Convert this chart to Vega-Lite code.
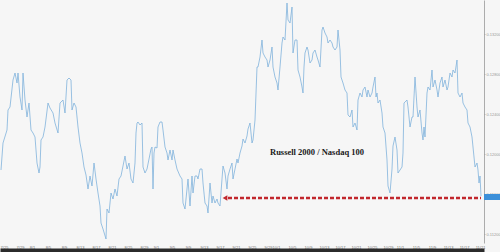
{
"$schema": "https://vega.github.io/schema/vega-lite/v6.json",
"width": 484, "height": 243,
"autosize": {"type": "none"},
"padding": {"left": 0, "top": 0, "right": 16, "bottom": 9},
"background": "#f6f6f6",
"config": {"view": {"stroke": null, "fill": "#f6f6f6"}},
"resolve": {"axis": {"x": "independent"}},
"datasets": {
"series": [
{"t":"2021-205 06","v":0.1184},{"t":"2021-205 18","v":0.1211},{"t":"2021-206 18","v":0.1224},{"t":"2021-207 00","v":0.1244},{"t":"2021-207 12","v":0.1247},
{"t":"2021-208 06","v":0.1274},{"t":"2021-208 18","v":0.1281},{"t":"2021-209 06","v":0.1271},{"t":"2021-209 12","v":0.1281},{"t":"2021-210 00","v":0.1257},
{"t":"2021-210 12","v":0.1244},{"t":"2021-210 18","v":0.1281},{"t":"2021-211 06","v":0.1254},{"t":"2021-211 18","v":0.1237},{"t":"2021-212 06","v":0.1251},
{"t":"2021-212 18","v":0.1224},{"t":"2021-213 06","v":0.1221},{"t":"2021-213 18","v":0.1217},{"t":"2021-214 06","v":0.1191},{"t":"2021-214 18","v":0.1181},
{"t":"2021-215 00","v":0.1187},{"t":"2021-215 06","v":0.1214},{"t":"2021-215 18","v":0.1217},{"t":"2021-216 06","v":0.1227},{"t":"2021-217 00","v":0.1251},
{"t":"2021-217 12","v":0.1246},{"t":"2021-218 06","v":0.1241},{"t":"2021-218 18","v":0.1231},{"t":"2021-219 12","v":0.1221},{"t":"2021-220 00","v":0.1251},
{"t":"2021-220 18","v":0.1254},{"t":"2021-221 06","v":0.1241},{"t":"2021-221 18","v":0.1274},{"t":"2021-222 06","v":0.1276},{"t":"2021-222 18","v":0.1274},
{"t":"2021-223 00","v":0.1244},{"t":"2021-223 12","v":0.1251},{"t":"2021-224 00","v":0.1247},{"t":"2021-224 12","v":0.1227},{"t":"2021-225 00","v":0.1211},
{"t":"2021-225 12","v":0.1201},{"t":"2021-226 00","v":0.1187},{"t":"2021-226 12","v":0.1179},{"t":"2021-227 00","v":0.1165},{"t":"2021-227 12","v":0.1178},
{"t":"2021-228 00","v":0.1168},{"t":"2021-228 12","v":0.1191},{"t":"2021-229 00","v":0.1175},{"t":"2021-229 12","v":0.1161},{"t":"2021-230 00","v":0.1148},
{"t":"2021-230 06","v":0.1131},{"t":"2021-230 18","v":0.1125},{"t":"2021-231 12","v":0.1115},{"t":"2021-231 18","v":0.1145},{"t":"2021-232 06","v":0.1141},
{"t":"2021-232 18","v":0.1161},{"t":"2021-233 06","v":0.1155},{"t":"2021-233 18","v":0.1165},{"t":"2021-234 06","v":0.1158},{"t":"2021-234 18","v":0.1175},
{"t":"2021-235 06","v":0.1178},{"t":"2021-235 18","v":0.1188},{"t":"2021-236 06","v":0.1198},{"t":"2021-236 18","v":0.1185},{"t":"2021-237 06","v":0.1191},
{"t":"2021-237 18","v":0.1175},{"t":"2021-238 06","v":0.1171},{"t":"2021-238 18","v":0.1191},{"t":"2021-239 00","v":0.1221},{"t":"2021-239 06","v":0.1231},
{"t":"2021-239 12","v":0.1232},{"t":"2021-240 00","v":0.1229},{"t":"2021-240 12","v":0.1231},{"t":"2021-240 18","v":0.1187},{"t":"2021-241 06","v":0.1181},
{"t":"2021-241 18","v":0.1185},{"t":"2021-242 06","v":0.1195},{"t":"2021-242 18","v":0.1205},{"t":"2021-243 00","v":0.1207},{"t":"2021-243 06","v":0.1165},
{"t":"2021-243 12","v":0.1201},{"t":"2021-243 18","v":0.1207},{"t":"2021-244 06","v":0.1206},{"t":"2021-244 12","v":0.1227},{"t":"2021-245 00","v":0.1232},
{"t":"2021-245 12","v":0.1232},{"t":"2021-245 18","v":0.1224},{"t":"2021-246 06","v":0.1207},{"t":"2021-246 18","v":0.1201},{"t":"2021-247 00","v":0.1194},
{"t":"2021-247 12","v":0.1204},{"t":"2021-248 00","v":0.1194},{"t":"2021-248 06","v":0.1204},{"t":"2021-248 18","v":0.1194},{"t":"2021-249 06","v":0.1185},
{"t":"2021-250 00","v":0.1178},{"t":"2021-250 12","v":0.1175},{"t":"2021-250 18","v":0.1151},{"t":"2021-251 06","v":0.1145},{"t":"2021-251 18","v":0.1165},
{"t":"2021-252 00","v":0.1175},{"t":"2021-252 12","v":0.1148},{"t":"2021-253 00","v":0.1178},{"t":"2021-253 06","v":0.1161},{"t":"2021-253 18","v":0.1178},
{"t":"2021-254 06","v":0.1178},{"t":"2021-254 12","v":0.1175},{"t":"2021-255 00","v":0.1185},{"t":"2021-255 12","v":0.1185},{"t":"2021-255 18","v":0.1171},
{"t":"2021-256 06","v":0.1151},{"t":"2021-256 18","v":0.1148},{"t":"2021-257 00","v":0.1141},{"t":"2021-257 12","v":0.1171},{"t":"2021-258 00","v":0.1151},
{"t":"2021-258 06","v":0.1158},{"t":"2021-258 18","v":0.1151},{"t":"2021-259 06","v":0.1155},{"t":"2021-259 12","v":0.1151},{"t":"2021-260 00","v":0.1148},
{"t":"2021-260 12","v":0.1175},{"t":"2021-260 18","v":0.1188},{"t":"2021-261 06","v":0.1181},{"t":"2021-261 18","v":0.1165},{"t":"2021-262 00","v":0.1178},
{"t":"2021-262 12","v":0.1185},{"t":"2021-263 00","v":0.1191},{"t":"2021-263 06","v":0.1175},{"t":"2021-263 18","v":0.1185},{"t":"2021-264 06","v":0.1195},
{"t":"2021-264 12","v":0.1191},{"t":"2021-265 00","v":0.1201},{"t":"2021-265 12","v":0.1208},{"t":"2021-265 18","v":0.1215},{"t":"2021-266 06","v":0.1211},
{"t":"2021-266 18","v":0.1218},{"t":"2021-267 00","v":0.1225},{"t":"2021-267 12","v":0.1231},{"t":"2021-268 00","v":0.1211},{"t":"2021-268 06","v":0.1214},
{"t":"2021-268 18","v":0.1234},{"t":"2021-269 06","v":0.1287},{"t":"2021-269 12","v":0.1287},{"t":"2021-270 00","v":0.1297},{"t":"2021-270 12","v":0.1314},
{"t":"2021-270 18","v":0.1301},{"t":"2021-271 06","v":0.1297},{"t":"2021-271 18","v":0.1294},{"t":"2021-272 00","v":0.1287},{"t":"2021-272 12","v":0.1294},
{"t":"2021-273 00","v":0.1307},{"t":"2021-273 06","v":0.1287},{"t":"2021-273 18","v":0.1277},{"t":"2021-274 06","v":0.1271},{"t":"2021-274 12","v":0.1264},
{"t":"2021-275 00","v":0.1287},{"t":"2021-275 12","v":0.1311},{"t":"2021-275 18","v":0.1317},{"t":"2021-276 06","v":0.1314},{"t":"2021-276 18","v":0.1351},
{"t":"2021-277 00","v":0.1334},{"t":"2021-277 12","v":0.1331},{"t":"2021-278 00","v":0.1347},{"t":"2021-278 06","v":0.1301},{"t":"2021-278 18","v":0.1314},
{"t":"2021-279 06","v":0.1314},{"t":"2021-279 12","v":0.1284},{"t":"2021-280 00","v":0.1277},{"t":"2021-280 12","v":0.1267},{"t":"2021-280 18","v":0.1261},
{"t":"2021-281 00","v":0.1287},{"t":"2021-281 06","v":0.1301},{"t":"2021-281 18","v":0.1307},{"t":"2021-282 00","v":0.1304},{"t":"2021-282 12","v":0.1291},
{"t":"2021-283 00","v":0.1294},{"t":"2021-283 06","v":0.1301},{"t":"2021-283 18","v":0.1304},{"t":"2021-284 06","v":0.1297},{"t":"2021-284 12","v":0.1294},
{"t":"2021-285 00","v":0.1287},{"t":"2021-285 12","v":0.1324},{"t":"2021-285 18","v":0.1327},{"t":"2021-286 06","v":0.1321},{"t":"2021-286 18","v":0.1317},
{"t":"2021-287 00","v":0.1311},{"t":"2021-287 12","v":0.1314},{"t":"2021-288 00","v":0.1311},{"t":"2021-288 06","v":0.1307},{"t":"2021-288 18","v":0.1304},
{"t":"2021-289 06","v":0.1307},{"t":"2021-289 12","v":0.1324},{"t":"2021-290 00","v":0.1304},{"t":"2021-290 06","v":0.1277},{"t":"2021-290 18","v":0.1271},
{"t":"2021-291 06","v":0.1264},{"t":"2021-291 18","v":0.1261},{"t":"2021-292 00","v":0.1239},{"t":"2021-292 12","v":0.1237},{"t":"2021-293 00","v":0.1244},
{"t":"2021-293 06","v":0.1227},{"t":"2021-293 18","v":0.1231},{"t":"2021-294 06","v":0.1224},{"t":"2021-294 12","v":0.1254},{"t":"2021-295 00","v":0.1261},
{"t":"2021-295 12","v":0.1257},{"t":"2021-295 18","v":0.1264},{"t":"2021-296 06","v":0.1267},{"t":"2021-296 18","v":0.1257},{"t":"2021-297 00","v":0.1264},
{"t":"2021-297 12","v":0.1257},{"t":"2021-298 00","v":0.1261},{"t":"2021-298 06","v":0.1267},{"t":"2021-298 18","v":0.1277},{"t":"2021-299 00","v":0.1257},
{"t":"2021-299 06","v":0.1261},{"t":"2021-299 12","v":0.1251},{"t":"2021-300 00","v":0.1254},{"t":"2021-300 12","v":0.1241},{"t":"2021-300 18","v":0.1227},
{"t":"2021-301 06","v":0.1221},{"t":"2021-301 18","v":0.1194},{"t":"2021-302 00","v":0.1168},{"t":"2021-302 12","v":0.1161},{"t":"2021-303 00","v":0.1185},
{"t":"2021-303 06","v":0.1208},{"t":"2021-303 18","v":0.1217},{"t":"2021-304 06","v":0.1204},{"t":"2021-304 12","v":0.1181},{"t":"2021-305 00","v":0.1184},
{"t":"2021-305 12","v":0.1187},{"t":"2021-305 18","v":0.1201},{"t":"2021-306 00","v":0.1251},{"t":"2021-306 18","v":0.1254},{"t":"2021-307 00","v":0.1247},
{"t":"2021-307 12","v":0.1227},{"t":"2021-308 00","v":0.1237},{"t":"2021-308 06","v":0.1237},{"t":"2021-308 18","v":0.1277},{"t":"2021-309 06","v":0.1247},
{"t":"2021-309 12","v":0.1237},{"t":"2021-310 00","v":0.1244},{"t":"2021-310 12","v":0.1221},{"t":"2021-310 18","v":0.1214},{"t":"2021-311 00","v":0.1227},
{"t":"2021-311 06","v":0.1217},{"t":"2021-311 18","v":0.1261},{"t":"2021-312 00","v":0.1267},{"t":"2021-312 12","v":0.1264},{"t":"2021-313 00","v":0.1284},
{"t":"2021-313 06","v":0.1267},{"t":"2021-313 18","v":0.1274},{"t":"2021-314 06","v":0.1264},{"t":"2021-314 12","v":0.1257},{"t":"2021-315 00","v":0.1271},
{"t":"2021-315 12","v":0.1277},{"t":"2021-315 18","v":0.1267},{"t":"2021-316 06","v":0.1274},{"t":"2021-316 18","v":0.1264},{"t":"2021-317 00","v":0.1267},
{"t":"2021-317 12","v":0.1281},{"t":"2021-318 00","v":0.1277},{"t":"2021-318 06","v":0.1284},{"t":"2021-318 18","v":0.1281},{"t":"2021-319 06","v":0.1294},
{"t":"2021-319 12","v":0.1261},{"t":"2021-320 00","v":0.1257},{"t":"2021-320 12","v":0.1261},{"t":"2021-320 18","v":0.1251},{"t":"2021-321 06","v":0.1247},
{"t":"2021-321 18","v":0.1244},{"t":"2021-322 00","v":0.1231},{"t":"2021-322 12","v":0.1227},{"t":"2021-323 00","v":0.1217},{"t":"2021-323 06","v":0.1207},
{"t":"2021-323 18","v":0.1187},{"t":"2021-324 06","v":0.1191},{"t":"2021-324 12","v":0.1184},{"t":"2021-324 18","v":0.1171},{"t":"2021-325 00","v":0.1178},
{"t":"2021-325 06","v":0.1158}
],
"level": [{"t":"2021-262 00","t2":"2021-325 06","v":0.1156}],
"arrowhead": [{"t":"2021-261 06","v":0.1156}],
"note": [{"t":"2021-284 06","v":0.1202,"label":"Russell 2000 / Nasdaq 100"}],
"lastbox": [{"t":"2021-326 00","t2":"2021-330 00","v":0.1160,"v2":0.1154,"tm":"2021-328 00","vm":0.1157,"label":"0.11580"}]
},
"layer": [
{
"data": {"name": "series", "format": {"parse": {"t": "date:'%Y-%j %H'"}}},
"mark": {"type": "line", "color": "#80b3dc", "strokeWidth": 0.8, "clip": true},
"encoding": {
"x": {"field": "t", "type": "temporal",
"scale": {"domain": [{"year": 2021, "month": 7, "date": 24}, {"year": 2021, "month": 11, "date": 22}], "nice": false},
"axis": {"title": null, "format": "%-m/%-d", "tickCount": {"interval": "day", "step": 4}, "labelFontSize": 4, "labelColor": "#777", "labelOverlap": false, "labelPadding": 2, "ticks": false, "domain": false, "grid": false, "labelFont": "Liberation Sans"}},
"y": {"field": "v", "type": "quantitative",
"scale": {"domain": [0.1111, 0.1354], "nice": false, "zero": false},
"axis": {"orient": "right", "title": null, "values": [0.112, 0.114, 0.116, 0.118, 0.12, 0.122, 0.124, 0.126, 0.128, 0.13, 0.132, 0.134], "format": ".5f", "labelFontSize": 4, "labelColor": "#999", "labelOverlap": false, "labelBound": false, "labelFlush": false, "ticks": true, "tickSize": 1, "tickColor": "#bbb", "labelPadding": 1, "domain": true, "domainColor": "#999", "domainWidth": 0.8, "grid": false, "labelFont": "Liberation Sans"}}
}
},
{
"data": {"name": "level", "format": {"parse": {"t": "date:'%Y-%j %H'", "t2": "date:'%Y-%j %H'"}}},
"mark": {"type": "rule", "color": "#c1272d", "strokeWidth": 2.5, "strokeDash": [4, 2]},
"encoding": {
"x": {"field": "t", "type": "temporal",
"axis": {"orient": "bottom", "offset": 7, "title": null, "labels": false, "ticks": false, "grid": false, "domain": true, "domainColor": "#2b2b2b", "domainWidth": 4}},
"x2": {"field": "t2"},
"y": {"field": "v", "type": "quantitative"}
}
},
{
"data": {"name": "arrowhead", "format": {"parse": {"t": "date:'%Y-%j %H'"}}},
"mark": {"type": "point", "shape": "triangle-left", "filled": true, "color": "#c1272d", "size": 30, "opacity": 1},
"encoding": {
"x": {"field": "t", "type": "temporal", "axis": null},
"y": {"field": "v", "type": "quantitative"}
}
},
{
"data": {"name": "note", "format": {"parse": {"t": "date:'%Y-%j %H'"}}},
"mark": {"type": "text", "font": "Liberation Serif", "fontWeight": "bold", "fontSize": 8.5, "color": "#1a1a1a", "align": "center", "baseline": "middle"},
"encoding": {
"x": {"field": "t", "type": "temporal", "axis": null},
"y": {"field": "v", "type": "quantitative"},
"text": {"field": "label"}
}
},
{
"data": {"name": "lastbox", "format": {"parse": {"t": "date:'%Y-%j %H'", "t2": "date:'%Y-%j %H'"}}},
"mark": {"type": "rect", "color": "#3b8fd9", "clip": false},
"encoding": {
"x": {"field": "t", "type": "temporal", "axis": null},
"x2": {"field": "t2"},
"y": {"field": "v", "type": "quantitative"},
"y2": {"field": "v2"}
}
},
{
"data": {"name": "lastbox", "format": {"parse": {"tm": "date:'%Y-%j %H'"}}},
"mark": {"type": "text", "color": "#ffffff", "fontSize": 3.5, "align": "center", "baseline": "middle", "font": "Liberation Sans", "clip": false},
"encoding": {
"x": {"field": "tm", "type": "temporal", "axis": null},
"y": {"field": "vm", "type": "quantitative"},
"text": {"field": "label"}
}
}
]
}
